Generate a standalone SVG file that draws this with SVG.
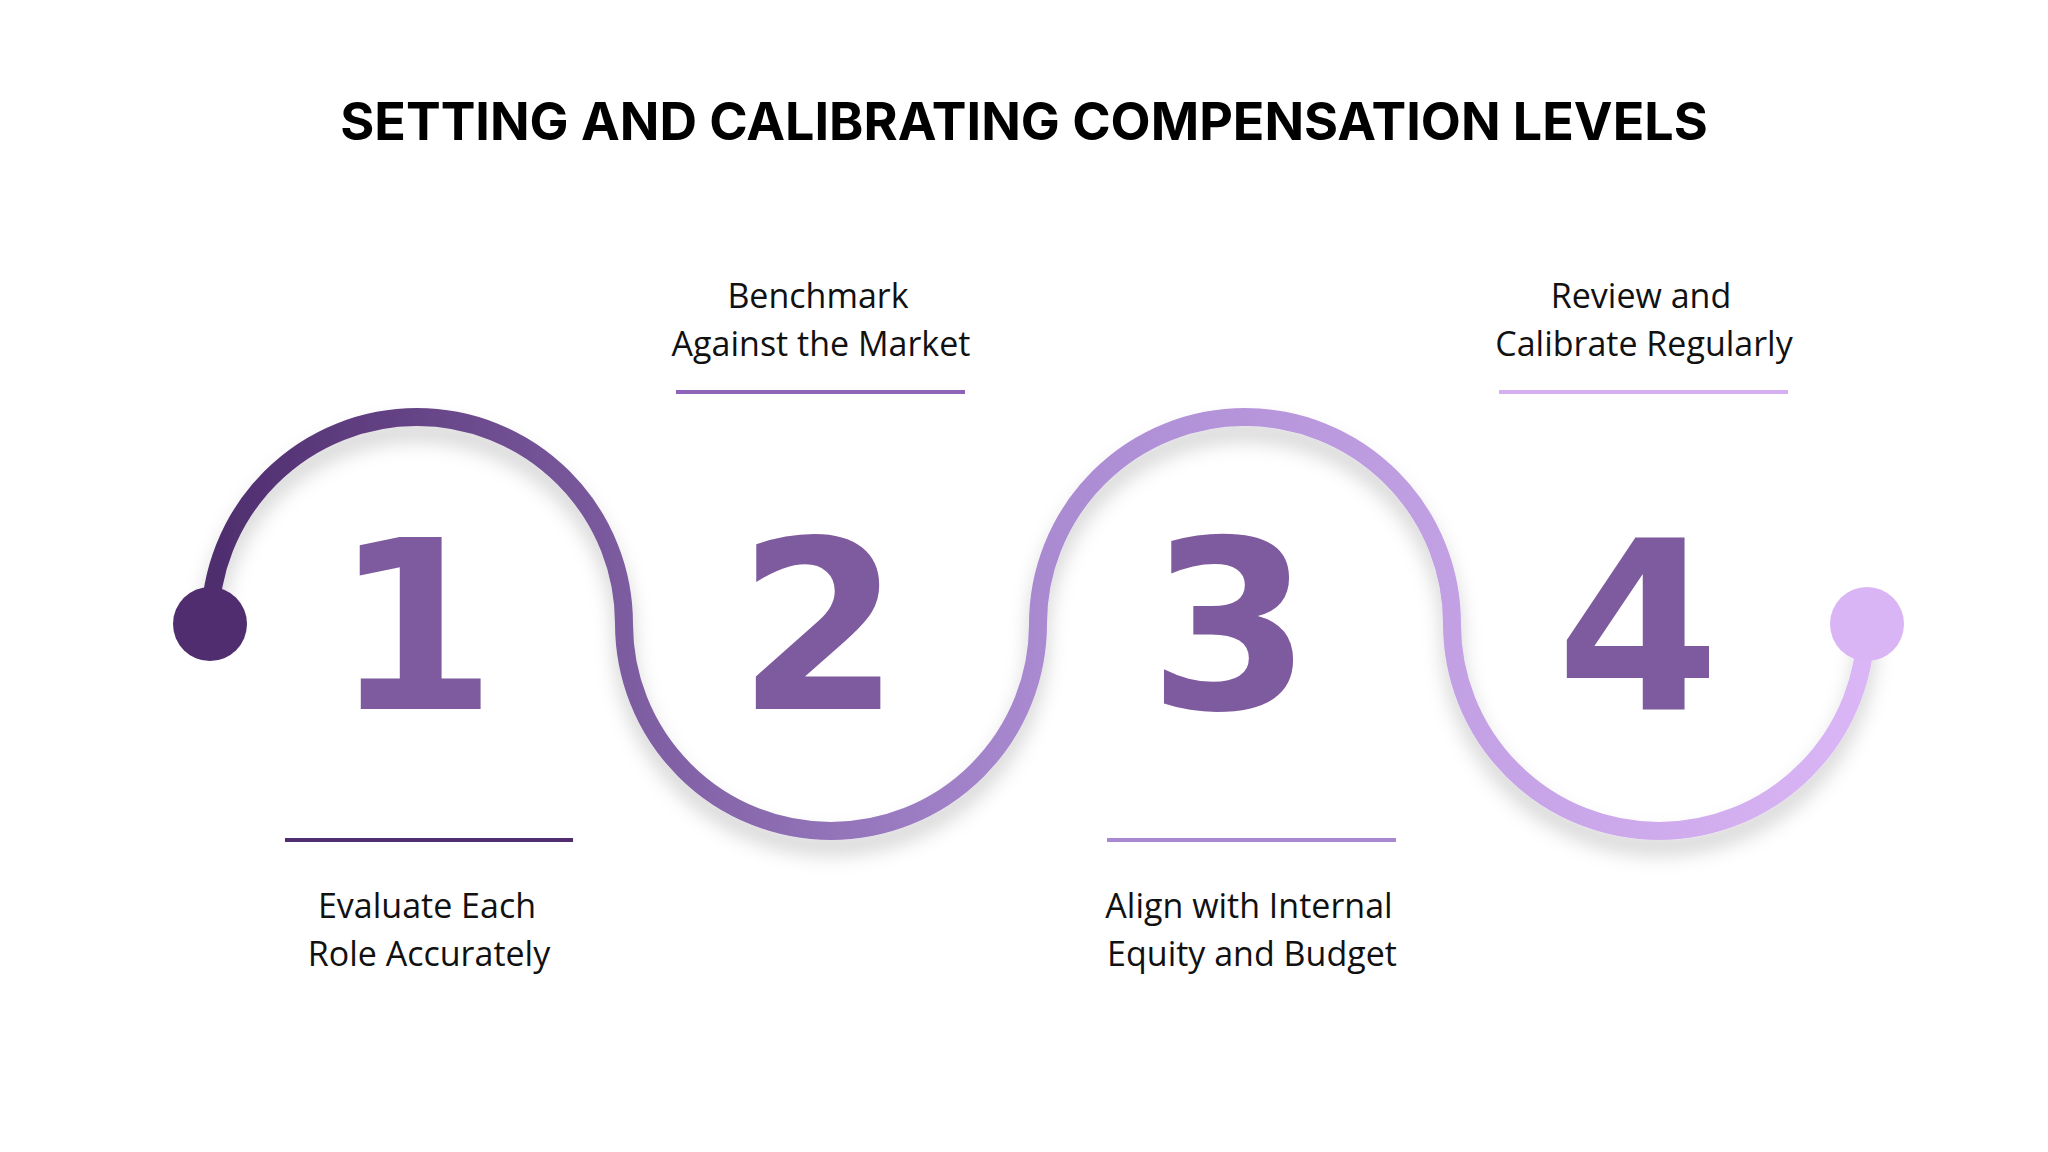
<svg xmlns="http://www.w3.org/2000/svg" width="2048" height="1152" viewBox="0 0 2048 1152">
<defs>
<linearGradient id="g" gradientUnits="userSpaceOnUse" x1="210" y1="0" x2="1866" y2="0">
<stop offset="0" stop-color="#4f2d6e"/><stop offset="0.5" stop-color="#a98ad1"/><stop offset="1" stop-color="#dbb6f6"/>
</linearGradient>
<filter id="sh" x="-10%" y="-20%" width="120%" height="140%"><feDropShadow dx="0" dy="14" stdDeviation="10" flood-color="#000" flood-opacity="0.18"/></filter>
</defs>
<style>
.t{font-family:"Open Sans","Liberation Sans",sans-serif;font-size:34px;fill:#111;text-anchor:middle}
.n{font-family:"DejaVu Sans","Liberation Sans",sans-serif;font-weight:900;font-size:235px;fill:#7e5a9e;text-anchor:middle}
.ln{stroke-width:4}
</style>
<rect width="2048" height="1152" fill="#fff"/>
<text x="1024" y="140" font-family="Inter,'Liberation Sans',sans-serif" font-weight="700" font-size="52" text-anchor="middle" fill="#000">SETTING AND CALIBRATING COMPENSATION LEVELS</text>
<g id="connectors">
<path d="M210,624 A207,207 0 0 1 624,624 A207,207 0 0 0 1038,624 A207,207 0 0 1 1452,624 A207,207 0 0 0 1866,624" fill="none" stroke="url(#g)" stroke-width="18" filter="url(#sh)"/>
<circle cx="210" cy="624" r="37" fill="#4f2d6e"/>
<circle cx="1867" cy="624" r="37" fill="#dab5f5"/>
</g>
<g id="step1"><text class="n" x="415" y="709">1</text>
<line class="ln" x1="285" y1="840" x2="573" y2="840" stroke="#4f2d6e"/>
<text class="t" x="427" y="918">Evaluate Each</text><text class="t" x="429" y="966">Role Accurately</text></g>
<g id="step2"><text class="n" x="819" y="709">2</text>
<line class="ln" x1="676" y1="392" x2="965" y2="392" stroke="#8e64b8"/>
<text class="t" x="818" y="308">Benchmark</text><text class="t" x="821" y="356">Against the Market</text></g>
<g id="step3"><text class="n" x="1230" y="709">3</text>
<line class="ln" x1="1107" y1="840" x2="1396" y2="840" stroke="#a888d0"/>
<text class="t" x="1249" y="918">Align with Internal</text><text class="t" x="1252" y="966">Equity and Budget</text></g>
<g id="step4"><text class="n" x="1638" y="709">4</text>
<line class="ln" x1="1499" y1="392" x2="1788" y2="392" stroke="#d4b0f0"/>
<text class="t" x="1641" y="308">Review and</text><text class="t" x="1644" y="356">Calibrate Regularly</text></g>
</svg>
